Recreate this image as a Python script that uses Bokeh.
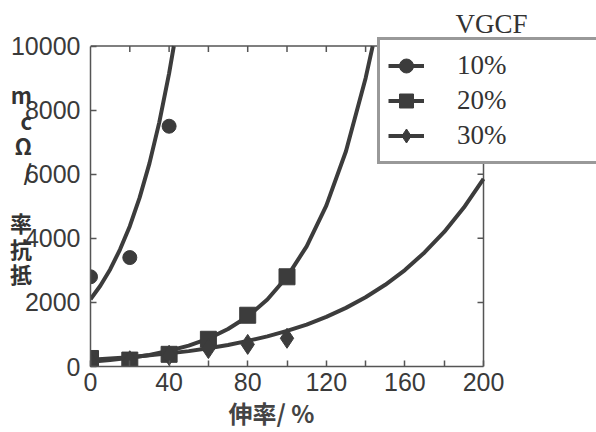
from math import pi
from bokeh.plotting import figure
from bokeh.models import FixedTicker, Legend, LegendItem, Label, Range1d
from bokeh.embed import file_html
from bokeh.resources import INLINE

# measured data (elongation %, resistivity ohm*cm)
x_10 = [0, 20, 40]
y_10 = [2800, 3400, 7500]
x_20 = [0, 20, 40, 60, 80, 100]
y_20 = [250, 200, 380, 850, 1600, 2800]
x_30 = [0, 20, 40, 60, 80, 100]
y_30 = [150, 180, 350, 560, 690, 880]

# fitted curves
fit10_x = [0, 5, 10, 15, 20, 25, 30, 35, 40, 42.4]
fit10_y = [2100, 2520, 3030, 3650, 4380, 5270, 6340, 7620, 9150, 10000]
fit20_x = [0, 10, 20, 30, 40, 50, 60, 70, 80, 90, 100, 110, 120, 130, 140, 143.6]
fit20_y = [150, 200, 270, 360, 490, 650, 870, 1170, 1560, 2090, 2800, 3750, 5020, 6720, 9000, 10000]
fit30_x = [0, 10, 20, 30, 40, 50, 60, 70, 80, 90, 100, 110, 120, 130, 140, 150, 160, 170, 180, 190, 200]
fit30_y = [210, 250, 290, 350, 410, 480, 570, 670, 800, 940, 1110, 1310, 1550, 1830, 2160, 2550, 3010, 3560, 4200, 4960, 5860]

x_ticks = [0, 20, 40, 60, 80, 100, 120, 140, 160, 180, 200]
x_tick_labels = {0: "0", 20: "", 40: "40", 60: "", 80: "80", 100: "", 120: "120", 140: "", 160: "160", 180: "", 200: "200"}
y_ticks = [0, 2000, 4000, 6000, 8000, 10000]

series_labels = ["10%", "20%", "30%"]
legend_title = "VGCF"
x_title = "伸率/ %"
y_title = "m\nc\nΩ\n/\n\u3000\n率\n抗\n抵"

DARK = "#3c3c3c"
AX = "#555555"

X0, X1 = x_ticks[0], x_ticks[-1]
Y0, Y1 = y_ticks[0], y_ticks[-1]

# frame runs to the right and top edges so the legend box and title are not clipped
p = figure(width=596, height=432, output_backend="svg", toolbar_location=None,
           x_range=Range1d(0, 257.5), y_range=Range1d(0, 11424),
           min_border_left=90, min_border_right=0, min_border_top=0, min_border_bottom=63)
p.grid.visible = False
p.outline_line_color = None
p.background_fill_color = "white"
p.border_fill_color = "white"

tick_font = "Liberation Sans"

for ax in (p.xaxis[0], p.yaxis[0]):
    ax.axis_line_color = AX
    ax.axis_line_width = 1.5
    ax.major_tick_line_color = AX
    ax.major_tick_line_width = 1.5
    ax.major_tick_in = 6
    ax.major_tick_out = 0
    ax.minor_tick_line_color = None
    ax.major_label_text_font = tick_font
    ax.major_label_text_font_size = "25px"
    ax.major_label_text_color = "#3a3a3a"

p.xaxis[0].ticker = FixedTicker(ticks=x_ticks)
p.xaxis[0].bounds = (X0, X1)
p.xaxis[0].major_label_overrides = {k: v for k, v in x_tick_labels.items()}
p.xaxis[0].major_label_standoff = 6
# ideographic spaces keep the title centred under the 0-200 span, not the wider frame
p.xaxis[0].axis_label = x_title + "\u3000" * 6
p.xaxis[0].axis_label_text_font = "Noto Sans CJK JP"
p.xaxis[0].axis_label_text_font_style = "bold"
p.xaxis[0].axis_label_text_font_size = "24px"
p.xaxis[0].axis_label_text_color = "#444444"
p.xaxis[0].axis_label_standoff = 1

p.yaxis[0].ticker = FixedTicker(ticks=y_ticks)
p.yaxis[0].bounds = (Y0, Y1)
p.yaxis[0].major_label_standoff = 10
p.yaxis[0].axis_label = y_title
p.yaxis[0].axis_label_orientation = "horizontal"
p.yaxis[0].axis_label_text_font = "Noto Sans CJK JP"
p.yaxis[0].axis_label_text_font_style = "bold"
p.yaxis[0].axis_label_text_font_size = "22px"
p.yaxis[0].axis_label_text_color = "#333333"
p.yaxis[0].axis_label_text_line_height = 0.8
p.yaxis[0].axis_label_standoff = -24

# top and right frame lines with inward ticks
p.segment(x0=[X0, X1], y0=[Y1, Y0], x1=[X1, X1], y1=[Y1, Y1], line_color=AX, line_width=1.5)
p.ray(x=x_ticks[1:-1], y=[Y1] * (len(x_ticks) - 2), length=6, length_units="screen",
      angle=-pi / 2, line_color=AX, line_width=1.5)
p.ray(x=[X1] * (len(y_ticks) - 2), y=y_ticks[1:-1], length=6, length_units="screen",
      angle=pi, line_color=AX, line_width=1.5)

l10 = p.line(fit10_x, fit10_y, line_color=DARK, line_width=4)
l20 = p.line(fit20_x, fit20_y, line_color=DARK, line_width=4)
l30 = p.line(fit30_x, fit30_y, line_color=DARK, line_width=4)
s10 = p.scatter(x_10, y_10, marker="circle", size=14, fill_color=DARK, line_color=DARK)
s20 = p.scatter(x_20, y_20, marker="square", size=16, fill_color=DARK, line_color=DARK)
s30 = p.scatter(x_30, y_30, marker="diamond", size=20, fill_color=DARK, line_color=DARK)

legend = Legend(items=[LegendItem(label=series_labels[0], renderers=[l10, s10]),
                       LegendItem(label=series_labels[1], renderers=[l20, s20]),
                       LegendItem(label=series_labels[2], renderers=[l30, s30])],
                location=(287, 202), margin=0, padding=8, spacing=0,
                glyph_width=36, glyph_height=35, label_standoff=33, label_width=300,
                label_text_font="Liberation Serif", label_text_font_size="27px",
                label_text_color="#333333", border_line_color="#333333", border_line_width=3,
                background_fill_color="white", background_fill_alpha=1.0)
p.add_layout(legend, "center")

p.add_layout(Label(x=185.8, y=10680, text=legend_title, text_font="Liberation Serif",
                   text_font_size="27px", text_color="#333333", text_align="left", text_baseline="middle"))

open("out.html", "w").write(file_html(p, INLINE))
